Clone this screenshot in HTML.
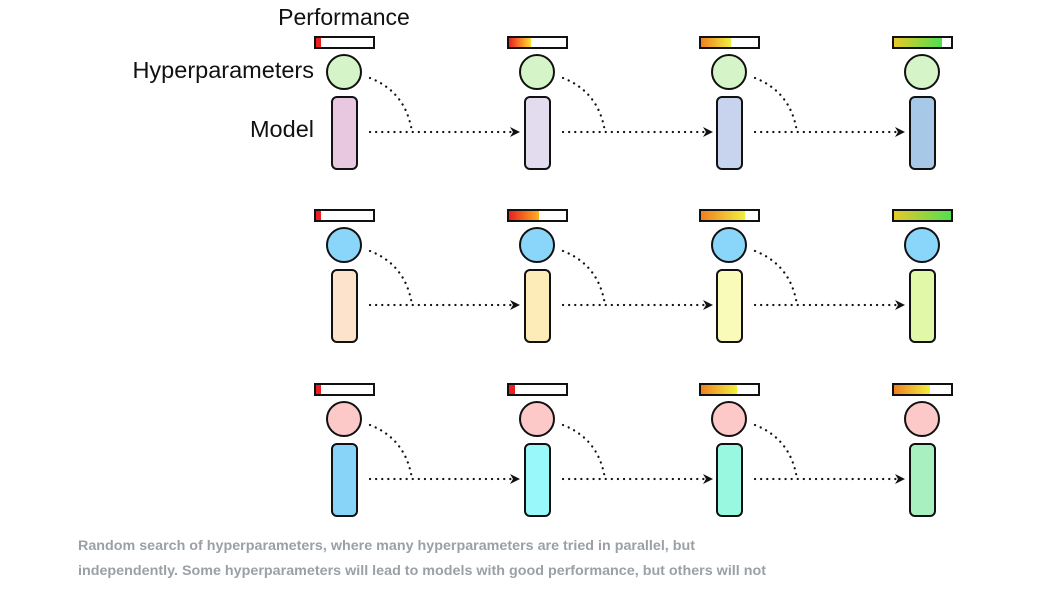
<!DOCTYPE html>
<html><head><meta charset="utf-8"><style>
html,body{margin:0;padding:0;background:#fff;width:1064px;height:596px;overflow:hidden}
</style></head><body>
<svg width="1064" height="596" viewBox="0 0 1064 596" xmlns="http://www.w3.org/2000/svg" font-family="Liberation Sans, sans-serif">
<defs>
<linearGradient id="ry" x1="0" x2="1"><stop offset="0" stop-color="#e82020"/><stop offset="1" stop-color="#ffe030"/></linearGradient>
<linearGradient id="ro" x1="0" x2="1"><stop offset="0" stop-color="#e82020"/><stop offset="1" stop-color="#ffb020"/></linearGradient>
<linearGradient id="oy" x1="0" x2="1"><stop offset="0" stop-color="#f08020"/><stop offset="1" stop-color="#f0f040"/></linearGradient>
<linearGradient id="yg" x1="0" x2="1"><stop offset="0" stop-color="#e8c828"/><stop offset="1" stop-color="#50e050"/></linearGradient>
<g id="conn">
<line x1="26" y1="95" x2="168" y2="95" stroke="#111" stroke-width="2.2" stroke-dasharray="0.1 6" stroke-linecap="round"/>
<path d="M166,90 L176,95 L166,100 L169,95 Z" fill="#111"/>
<path d="M26,41 Q62,55 68,95" fill="none" stroke="#111" stroke-width="2.2" stroke-dasharray="0.1 6" stroke-linecap="round"/>
</g>
<g id="frame">
<rect x="-29" y="0" width="59" height="11" fill="none" stroke="#111" stroke-width="2"/>
</g>
</defs>
<text x="344" y="25" font-size="23" text-anchor="middle" fill="#111">Performance</text>
<text x="314" y="78" font-size="23.5" text-anchor="end" fill="#111">Hyperparameters</text>
<text x="314" y="137" font-size="23.5" text-anchor="end" fill="#111">Model</text>

<!-- Row 1 -->
<g transform="translate(344,37)">
<rect x="-29" y="0" width="59" height="11" fill="#fff"/><rect x="-28" y="1" width="5" height="9" fill="#e82020"/><use href="#frame"/>
<circle cx="0" cy="35" r="17" fill="#d5f5c8" stroke="#111" stroke-width="2"/>
<rect x="-12" y="60" width="25" height="72" rx="5" fill="#e8c8e0" stroke="#111" stroke-width="2"/>
<use href="#conn"/></g>
<g transform="translate(537,37)">
<rect x="-29" y="0" width="59" height="11" fill="#fff"/><rect x="-28" y="1" width="22" height="9" fill="url(#ry)"/><use href="#frame"/>
<circle cx="0" cy="35" r="17" fill="#d5f5c8" stroke="#111" stroke-width="2"/>
<rect x="-12" y="60" width="25" height="72" rx="5" fill="#e2dcee" stroke="#111" stroke-width="2"/>
<use href="#conn"/></g>
<g transform="translate(729,37)">
<rect x="-29" y="0" width="59" height="11" fill="#fff"/><rect x="-28" y="1" width="30" height="9" fill="url(#oy)"/><use href="#frame"/>
<circle cx="0" cy="35" r="17" fill="#d5f5c8" stroke="#111" stroke-width="2"/>
<rect x="-12" y="60" width="25" height="72" rx="5" fill="#c8d4ee" stroke="#111" stroke-width="2"/>
<use href="#conn"/></g>
<g transform="translate(922,37)">
<rect x="-29" y="0" width="59" height="11" fill="#fff"/><rect x="-28" y="1" width="48" height="9" fill="url(#yg)"/><use href="#frame"/>
<circle cx="0" cy="35" r="17" fill="#d5f5c8" stroke="#111" stroke-width="2"/>
<rect x="-12" y="60" width="25" height="72" rx="5" fill="#a8c8e8" stroke="#111" stroke-width="2"/>
</g>

<!-- Row 2 -->
<g transform="translate(344,210)">
<rect x="-29" y="0" width="59" height="11" fill="#fff"/><rect x="-28" y="1" width="5" height="9" fill="#e82020"/><use href="#frame"/>
<circle cx="0" cy="35" r="17" fill="#8ad6fa" stroke="#111" stroke-width="2"/>
<rect x="-12" y="60" width="25" height="72" rx="5" fill="#fde2cc" stroke="#111" stroke-width="2"/>
<use href="#conn"/></g>
<g transform="translate(537,210)">
<rect x="-29" y="0" width="59" height="11" fill="#fff"/><rect x="-28" y="1" width="30" height="9" fill="url(#ro)"/><use href="#frame"/>
<circle cx="0" cy="35" r="17" fill="#8ad6fa" stroke="#111" stroke-width="2"/>
<rect x="-12" y="60" width="25" height="72" rx="5" fill="#fdecb8" stroke="#111" stroke-width="2"/>
<use href="#conn"/></g>
<g transform="translate(729,210)">
<rect x="-29" y="0" width="59" height="11" fill="#fff"/><rect x="-28" y="1" width="44" height="9" fill="url(#oy)"/><use href="#frame"/>
<circle cx="0" cy="35" r="17" fill="#8ad6fa" stroke="#111" stroke-width="2"/>
<rect x="-12" y="60" width="25" height="72" rx="5" fill="#f8fcb8" stroke="#111" stroke-width="2"/>
<use href="#conn"/></g>
<g transform="translate(922,210)">
<rect x="-29" y="0" width="59" height="11" fill="#fff"/><rect x="-28" y="1" width="58" height="9" fill="url(#yg)"/><use href="#frame"/>
<circle cx="0" cy="35" r="17" fill="#8ad6fa" stroke="#111" stroke-width="2"/>
<rect x="-12" y="60" width="25" height="72" rx="5" fill="#e0f8a8" stroke="#111" stroke-width="2"/>
</g>

<!-- Row 3 -->
<g transform="translate(344,384)">
<rect x="-29" y="0" width="59" height="11" fill="#fff"/><rect x="-28" y="1" width="5" height="9" fill="#e82020"/><use href="#frame"/>
<circle cx="0" cy="35" r="17" fill="#fcc8c8" stroke="#111" stroke-width="2"/>
<rect x="-12" y="60" width="25" height="72" rx="5" fill="#88d4f8" stroke="#111" stroke-width="2"/>
<use href="#conn"/></g>
<g transform="translate(537,384)">
<rect x="-29" y="0" width="59" height="11" fill="#fff"/><rect x="-28" y="1" width="6" height="9" fill="#e82020"/><use href="#frame"/>
<circle cx="0" cy="35" r="17" fill="#fcc8c8" stroke="#111" stroke-width="2"/>
<rect x="-12" y="60" width="25" height="72" rx="5" fill="#98f8fa" stroke="#111" stroke-width="2"/>
<use href="#conn"/></g>
<g transform="translate(729,384)">
<rect x="-29" y="0" width="59" height="11" fill="#fff"/><rect x="-28" y="1" width="36" height="9" fill="url(#oy)"/><use href="#frame"/>
<circle cx="0" cy="35" r="17" fill="#fcc8c8" stroke="#111" stroke-width="2"/>
<rect x="-12" y="60" width="25" height="72" rx="5" fill="#98f8e0" stroke="#111" stroke-width="2"/>
<use href="#conn"/></g>
<g transform="translate(922,384)">
<rect x="-29" y="0" width="59" height="11" fill="#fff"/><rect x="-28" y="1" width="36" height="9" fill="url(#oy)"/><use href="#frame"/>
<circle cx="0" cy="35" r="17" fill="#fcc8c8" stroke="#111" stroke-width="2"/>
<rect x="-12" y="60" width="25" height="72" rx="5" fill="#a8f0c0" stroke="#111" stroke-width="2"/>
</g>

<text x="78" y="550" font-size="13.5" font-weight="bold" fill="#9aa0a6" textLength="617" lengthAdjust="spacingAndGlyphs">Random search of hyperparameters, where many hyperparameters are tried in parallel, but</text>
<text x="78" y="575" font-size="13.5" font-weight="bold" fill="#9aa0a6" textLength="688" lengthAdjust="spacingAndGlyphs">independently. Some hyperparameters will lead to models with good performance, but others will not</text>
</svg>
</body></html>
